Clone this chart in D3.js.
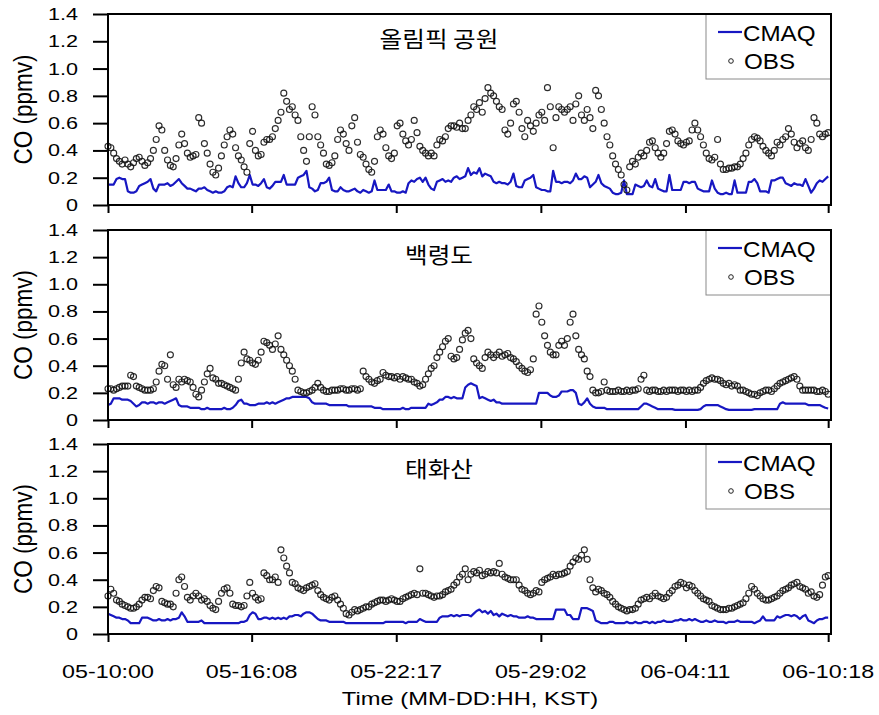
<!DOCTYPE html>
<html><head><meta charset="utf-8">
<script src="https://cdn.jsdelivr.net/npm/d3@7"></script>
<style>
body{margin:0;background:#fff;}
svg{display:block;}
text{font-family:"Liberation Sans",Arial,sans-serif;fill:#000;}
.kr{font-family:"Noto Sans CJK KR","Noto Sans",sans-serif;}
</style></head>
<body>
<svg id="chart" width="879" height="715"></svg>
<script>
// ---- data (3-hour step, hours from 05-10:00 KST) ----
const stepHours = 3;
const siteNames = ["올림픽 공원", "백령도", "태화산"];
const seriesNames = ["CMAQ", "OBS"];
const xTickHours = [0, 152, 305, 458, 611, 762];
const xTickLabels = ["05-10:00", "05-16:08", "05-22:17", "05-29:02", "06-04:11", "06-10:18"];
const yTickValues = [0, 0.2, 0.4, 0.6, 0.8, 1.0, 1.2, 1.4];
const yTickLabels = ["0", "0.2", "0.4", "0.6", "0.8", "1.0", "1.2", "1.4"];

const olympicObs = [
.43,.42,.38,.34,.32,.30,.33,.30, .28,.31,.34,.35,.32,.29,.31,.34,
.40,.48,.58,.55,.40,.33,.29,.28, .34,.44,.52,.45,.38,.35,.36,.37,
.64,.60,.45,.38,.30,.24,.22,.27, .36,.44,.50,.55,.52,.42,.36,.33,
.28,.24,.45,.54,.40,.36,.37,.46, .48,.48,.50,.56,.62,.68,.82,.76,
.70,.72,.66,.62,.50,.40,.32,.50, .72,.66,.50,.44,.38,.30,.29,.31,
.36,.48,.55,.52,.45,.40,.58,.64, .46,.37,.35,.30,.26,.24,.32,.50,
.55,.52,.42,.36,.34,.38,.58,.60, .52,.47,.44,.48,.62,.53,.43,.40,
.38,.36,.38,.36,.44,.48,.47,.50, .56,.58,.58,.57,.60,.56,.56,.62,
.66,.72,.70,.75,.68,.78,.86,.82, .80,.76,.72,.70,.55,.52,.60,.74,
.76,.68,.56,.50,.62,.58,.54,.60, .66,.68,.62,.86,.72,.42,.64,.72,
.70,.68,.70,.72,.62,.74,.80,.66, .62,.70,.64,.56,.84,.80,.70,.60,
.50,.44,.36,.30,.26,.22,.15,.11, .28,.32,.30,.35,.38,.36,.40,.46,
.47,.42,.38,.35,.38,.45,.54,.55, .52,.47,.45,.44,.46,.47,.55,.60,
.55,.50,.44,.38,.34,.33,.35,.48, .30,.26,.26,.27,.27,.28,.28,.30,
.34,.38,.44,.48,.50,.49,.47,.43, .40,.38,.36,.40,.46,.44,.48,.50,
.56,.52,.46,.42,.45,.47,.42,.40, .48,.64,.60,.52,.50,.52,.53];

const olympicCmaq = [
.15,.15,.15,.19,.20,.19,.19,.10, .09,.09,.10,.14,.15,.16,.17,.19,
.12,.10,.15,.15,.15,.16,.14,.15, .17,.19,.16,.14,.12,.12,.11,.10,
.12,.12,.13,.11,.10,.09,.10,.09, .09,.10,.13,.14,.13,.21,.16,.13,
.13,.16,.22,.15,.15,.14,.16,.19, .13,.12,.14,.17,.17,.17,.22,.15,
.15,.15,.15,.20,.21,.22,.25,.13, .12,.10,.11,.16,.16,.17,.20,.11,
.10,.10,.13,.11,.10,.10,.11,.12, .10,.09,.11,.10,.09,.10,.18,.11,
.11,.11,.11,.15,.10,.10,.09,.09, .10,.09,.16,.18,.17,.19,.20,.17,
.20,.15,.12,.11,.17,.18,.19,.17, .18,.17,.20,.21,.19,.20,.21,.27,
.22,.24,.23,.27,.21,.23,.22,.21, .17,.16,.17,.16,.16,.15,.17,.23,
.14,.13,.13,.18,.19,.20,.22,.13, .12,.11,.11,.10,.10,.25,.17,.17,
.16,.17,.17,.16,.18,.23,.19,.19, .21,.20,.13,.15,.17,.22,.16,.14,
.13,.12,.09,.08,.08,.09,.18,.08, .08,.08,.15,.14,.13,.14,.18,.14,
.13,.19,.12,.11,.10,.10,.22,.11, .11,.11,.11,.17,.17,.16,.17,.17,
.12,.11,.10,.10,.10,.18,.12,.09, .08,.08,.09,.08,.08,.18,.09,.09,
.09,.09,.17,.17,.19,.16,.10,.10, .10,.09,.18,.18,.19,.20,.20,.16,
.15,.14,.16,.15,.15,.14,.19,.14, .09,.12,.16,.18,.17,.19,.21];

const baengObs = [
.23,.23,.22,.23,.24,.25,.25,.25, .33,.32,.25,.24,.23,.22,.22,.22,
.23,.28,.36,.41,.40,.30,.48,.26, .24,.30,.28,.30,.29,.28,.24,.19,
.17,.22,.28,.34,.38,.31,.30,.27, .27,.26,.25,.24,.23,.22,.30,.42,
.50,.45,.44,.42,.41,.44,.50,.58, .57,.55,.52,.56,.62,.52,.48,.44,
.40,.36,.30,.22,.21,.20,.20,.21, .22,.24,.27,.24,.22,.21,.21,.22,
.22,.22,.23,.23,.22,.22,.23,.23, .22,.23,.36,.32,.30,.28,.27,.29,
.30,.35,.33,.32,.32,.31,.32,.30, .32,.31,.30,.30,.28,.27,.25,.26,
.30,.34,.38,.40,.46,.50,.54,.58, .60,.47,.45,.46,.52,.59,.64,.66,
.60,.45,.42,.40,.38,.46,.50,.48, .46,.48,.50,.47,.48,.49,.46,.45,
.43,.40,.38,.36,.35,.37,.45,.78, .84,.72,.62,.55,.50,.48,.48,.55,
.58,.55,.60,.72,.78,.62,.52,.48, .45,.36,.32,.22,.20,.20,.21,.28,
.22,.21,.21,.21,.22,.21,.21,.22, .21,.22,.22,.23,.30,.33,.22,.21,
.22,.22,.21,.21,.22,.21,.22,.22, .22,.21,.22,.22,.21,.22,.21,.22,
.22,.24,.27,.29,.30,.31,.30,.30, .29,.27,.26,.27,.25,.26,.25,.22,
.22,.21,.20,.19,.19,.18,.20,.21, .22,.22,.21,.23,.25,.27,.28,.29,
.30,.31,.32,.30,.25,.22,.22,.22, .22,.22,.21,.21,.22,.21,.19];

const baengCmaq = [
.11,.12,.16,.16,.16,.15,.15,.15, .14,.12,.10,.11,.13,.13,.12,.13,
.13,.12,.13,.13,.12,.13,.14,.15, .16,.11,.10,.10,.10,.09,.09,.09,
.09,.08,.08,.09,.08,.08,.08,.08, .08,.09,.08,.08,.09,.11,.14,.15,
.12,.12,.11,.11,.11,.12,.12,.12, .13,.12,.13,.12,.13,.14,.15,.16,
.16,.17,.17,.17,.17,.17,.17,.16, .13,.12,.12,.12,.12,.12,.11,.11,
.11,.11,.11,.11,.11,.10,.10,.10, .10,.10,.10,.10,.10,.10,.09,.09,
.09,.08,.08,.08,.08,.08,.08,.08, .09,.08,.08,.09,.09,.09,.09,.09,
.09,.12,.11,.12,.13,.15,.15,.17, .17,.16,.17,.16,.16,.16,.24,.26,
.27,.26,.25,.16,.17,.16,.15,.14, .15,.13,.13,.12,.12,.12,.12,.12,
.12,.12,.12,.12,.12,.12,.12,.12, .20,.20,.20,.20,.18,.17,.17,.18,
.21,.21,.21,.22,.22,.20,.12,.11, .13,.16,.12,.10,.09,.09,.09,.09,
.08,.08,.08,.08,.08,.08,.08,.08, .08,.08,.08,.08,.10,.12,.12,.11,
.10,.09,.08,.08,.08,.08,.08,.08, .075,.075,.075,.075,.075,.075,.075,.075,
.075,.08,.10,.11,.11,.11,.11,.11, .10,.09,.08,.075,.075,.075,.075,.075,
.075,.075,.075,.075,.08,.08,.08,.08, .08,.08,.08,.08,.08,.12,.13,.12,
.12,.12,.12,.12,.12,.12,.12,.11, .11,.11,.11,.11,.10,.09,.085];

const taehwaObs = [
.28,.33,.30,.25,.24,.22,.21,.20, .19,.19,.20,.22,.25,.27,.27,.26,
.32,.35,.34,.24,.23,.22,.22,.20, .30,.40,.42,.35,.27,.25,.28,.30,
.28,.25,.26,.24,.21,.19,.18,.24, .30,.33,.34,.30,.22,.21,.21,.20,
.21,.28,.38,.30,.27,.25,.26,.45, .43,.40,.40,.42,.38,.62,.56,.50,
.45,.38,.37,.34,.33,.32,.34,.35, .36,.37,.32,.29,.27,.26,.25,.27,
.28,.25,.22,.19,.15,.14,.16,.18, .17,.18,.19,.20,.20,.22,.23,.24,
.25,.25,.24,.25,.26,.25,.24,.24, .26,.27,.28,.29,.30,.29,.48,.30,
.30,.29,.28,.27,.28,.28,.29,.31, .32,.33,.36,.38,.42,.44,.48,.40,
.44,.46,.45,.47,.43,.44,.46,.45, .46,.45,.52,.44,.42,.41,.40,.40,
.40,.36,.33,.32,.30,.29,.30,.32, .31,.38,.40,.41,.42,.44,.43,.44,
.44,.45,.46,.50,.53,.56,.55,.58, .62,.55,.40,.34,.31,.33,.32,.30,
.29,.27,.24,.22,.20,.19,.18,.17, .18,.18,.19,.22,.25,.26,.27,.26,
.28,.30,.28,.27,.26,.27,.30,.32, .35,.36,.38,.37,.34,.36,.35,.32,
.30,.28,.26,.25,.24,.21,.20,.19, .18,.18,.18,.19,.19,.20,.21,.22,
.23,.26,.30,.35,.33,.30,.28,.26, .25,.25,.26,.27,.28,.30,.32,.33,
.34,.36,.37,.38,.35,.34,.33,.30, .31,.28,.27,.29,.36,.42,.43];

const taehwaCmaq = [
.15,.14,.13,.12,.12,.11,.11,.10, .08,.08,.08,.08,.12,.12,.12,.11,
.10,.10,.11,.10,.10,.11,.10,.11, .11,.12,.16,.13,.09,.09,.09,.09,
.09,.10,.08,.08,.08,.08,.08,.08, .08,.08,.08,.08,.08,.08,.08,.09,
.09,.10,.14,.16,.15,.11,.11,.12, .12,.11,.12,.11,.12,.11,.12,.11,
.13,.13,.14,.14,.13,.15,.16,.16, .15,.13,.11,.10,.10,.10,.09,.09,
.09,.09,.09,.09,.08,.08,.08,.08, .08,.08,.08,.08,.08,.08,.08,.08,
.08,.08,.09,.09,.09,.09,.09,.09, .09,.08,.09,.09,.09,.09,.11,.10,
.09,.09,.09,.09,.09,.12,.13,.13, .13,.14,.13,.14,.13,.14,.14,.14,
.13,.15,.17,.18,.16,.17,.15,.17, .14,.15,.13,.15,.14,.13,.14,.13,
.13,.12,.12,.12,.13,.12,.12,.11, .11,.11,.11,.11,.11,.11,.18,.18,
.18,.18,.14,.14,.11,.11,.11,.19, .19,.19,.18,.17,.10,.09,.08,.08,
.08,.09,.09,.08,.08,.08,.08,.09, .08,.08,.09,.08,.08,.09,.09,.08,
.09,.08,.09,.09,.10,.09,.09,.09, .10,.10,.11,.10,.10,.11,.10,.11,
.10,.09,.09,.10,.09,.09,.10,.09, .09,.09,.08,.09,.09,.09,.10,.09,
.09,.09,.09,.09,.08,.09,.10,.13, .10,.10,.10,.10,.13,.12,.13,.14,
.14,.13,.14,.13,.11,.13,.14,.10, .09,.08,.10,.11,.11,.12,.12];

const obsBySite = [olympicObs, baengObs, taehwaObs];
const cmaqBySite = [olympicCmaq, baengCmaq, taehwaCmaq];

// ---- layout ----
const svg = d3.select("#chart");
svg.append("rect").attr("width", 879).attr("height", 715).attr("fill", "#fff");
const panelTops = [14, 230, 444];
const panelBottoms = [205, 420, 634];
const x = d3.scaleLinear().domain([0, 765]).range([108, 831]);
const cmaqColor = "#1717c2";
const SX = 1.31; // horizontal stretch of the original picture's text

function stretchedText(g, str, tx, ty, size, anchor, sx, cls) {
  const t = g.append("text")
    .attr("transform", `translate(${tx},${ty}) scale(${sx},1)`)
    .attr("text-anchor", anchor)
    .attr("font-size", size)
    .text(str);
  if (cls) t.attr("class", cls);
  return t;
}

siteNames.forEach((name, p) => {
  const top = panelTops[p], bot = panelBottoms[p];
  const y = d3.scaleLinear().domain([0, 1.4]).range([bot, top]);
  const g = svg.append("g");

  const obs = obsBySite[p].map((v, i) => ({h: i * stepHours, v}));
  const cm = cmaqBySite[p].map((v, i) => ({h: i * stepHours, v}));

  g.append("path").datum(cm)
    .attr("fill", "none").attr("stroke", cmaqColor).attr("stroke-width", 2.2)
    .attr("stroke-linejoin", "round")
    .attr("d", d3.line().x(d => x(d.h)).y(d => y(d.v)));

  g.append("g").selectAll("circle").data(obs).join("circle")
    .attr("cx", d => x(d.h)).attr("cy", d => y(d.v)).attr("r", 3)
    .attr("fill", "none").attr("stroke", "#151515").attr("stroke-width", 1.15)
    .attr("stroke-opacity", 0.9);

  // y axis
  const ya = d3.axisLeft(y).tickValues(yTickValues).tickSize(15).tickFormat("");
  const yg = g.append("g").attr("transform", `translate(${x.range()[0]},0)`).call(ya);
  yg.select(".domain").remove();
  yg.selectAll("line").attr("stroke", "#000").attr("stroke-width", 2);
  yTickValues.forEach((v, i) => {
    stretchedText(g, yTickLabels[i], 78, y(v) + 6, 16.5, "end", SX);
  });

  // x axis ticks
  const xa = d3.axisBottom(x).tickValues(xTickHours).tickSize(8).tickFormat("");
  const xg = g.append("g").attr("transform", `translate(0,${bot})`).call(xa);
  xg.select(".domain").remove();
  xg.selectAll("line").attr("stroke", "#000").attr("stroke-width", 2);

  // y label
  const cy = (top + bot) / 2;
  g.append("text")
    .attr("transform", `translate(32,${cy}) rotate(-90) scale(1,1.2)`)
    .attr("text-anchor", "middle").attr("font-size", 21)
    .attr("textLength", 110).attr("lengthAdjust", "spacingAndGlyphs")
    .text("CO (ppmv)");

  // panel title
  stretchedText(g, name, 439, top + 33, 22, "middle", 1.12, "kr");

  // legend
  const lg = g.append("g");
  lg.append("rect").attr("x", 706).attr("y", top).attr("width", x.range()[1] - 706).attr("height", 65)
    .attr("fill", "#fff").attr("stroke", "#8a8a8a").attr("stroke-width", 1);
  lg.append("line").attr("x1", 718).attr("x2", 742).attr("y1", top + 18).attr("y2", top + 18)
    .attr("stroke", cmaqColor).attr("stroke-width", 2.2);
  stretchedText(lg, seriesNames[0], 743, top + 27, 22, "start", 1.1);
  lg.append("circle").attr("cx", 731).attr("cy", top + 47).attr("r", 2.3)
    .attr("fill", "none").attr("stroke", "#222").attr("stroke-width", 1);
  stretchedText(lg, seriesNames[1], 744, top + 55, 22, "start", 1.1);

  // frame
  g.append("rect").attr("x", x.range()[0]).attr("y", top)
    .attr("width", x.range()[1] - x.range()[0]).attr("height", bot - top)
    .attr("fill", "none").attr("stroke", "#000").attr("stroke-width", 2);

  if (p === siteNames.length - 1) {
    xTickHours.forEach((h, i) => {
      stretchedText(g, xTickLabels[i], x(h), bot + 44, 17.5, "middle", 1.33);
    });
    stretchedText(g, "Time (MM-DD:HH, KST)", 470, bot + 71, 18, "middle", 1.32);
  }
});
</script>
</body></html>
